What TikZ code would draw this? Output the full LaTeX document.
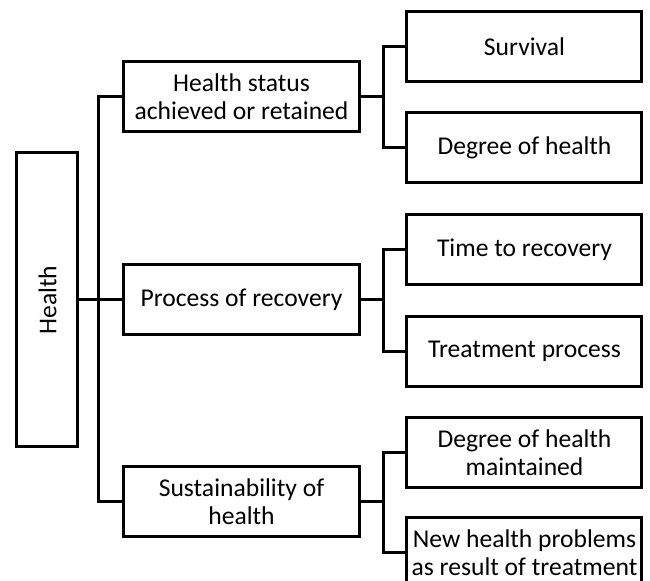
\documentclass[tikz,border=0pt]{standalone}
\usepackage{fontspec}
\setmainfont{Carlito}
\usepackage{tikz}

\begin{document}
\begin{tikzpicture} [
    x=0.5pt, y=-0.5pt,
    font=\fontsize{12.8}{14}\selectfont,
    block/.style    = { rectangle, draw, line width=1.5pt, text centered,
                        align=center, inner sep=0pt,
                        minimum width=118pt, minimum height=35pt },
    leaf/.style     = { block, minimum width=117.5pt },
    line/.style     = { draw, line width=1.5pt },
  ]

  \useasboundingbox (0,0) rectangle (650,581);

  % Define nodes
  \node[block, minimum width=30.5pt, minimum height=147pt](health) at (47.5,300)
       {\rotatebox{90}{Health}};

  \node[block](status)  at (241.5,97)  {Health status\\achieved or retained};
  \node[block](process) at (241.5,300) {Process of recovery};
  \node[block](sustain) at (241.5,502) {Sustainability of\\health};

  \node[leaf](survival)  at (524.5,47)    {Survival};
  \node[leaf](degree)    at (524.5,148)   {Degree of health};
  \node[leaf](time)      at (524.5,249.5) {Time to recovery};
  \node[leaf](treatment) at (524.5,351.5) {Treatment process};
  \node[leaf](kept)      at (524.5,452.5) {Degree of health\\maintained};
  \node[leaf](newprob)   at (524.5,553)   {New health problems\\as result of treatment};


  % connect the nodes
		\path [line] (health.east) -- (process.west);
		\path [line] (status.west) -- ++(-23,0) |- (sustain.west);

		\path [line] (status.east) -- ++(23,0) coordinate (j1);
		\path [line] (survival.west) -| (j1) |- (degree.west);
		\path [line] (process.east) -- ++(23,0) coordinate (j2);
		\path [line] (time.west) -| (j2) |- (treatment.west);
		\path [line] (sustain.east) -- ++(23,0) coordinate (j3);
		\path [line] (kept.west) -| (j3) |- (newprob.west);
\end{tikzpicture}
\end{document}
